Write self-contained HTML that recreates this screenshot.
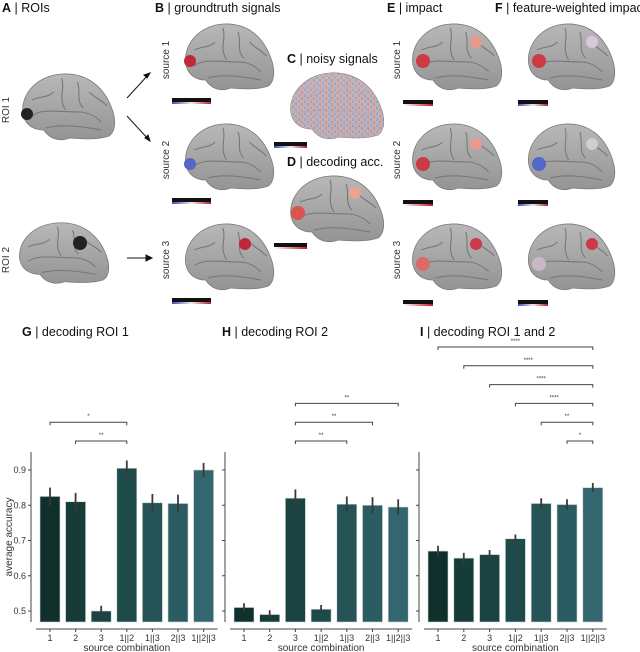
<!DOCTYPE html>
<html><head><meta charset="utf-8">
<style>
body{margin:0;background:#fff;}
svg{display:block;font-family:"Liberation Sans","DejaVu Sans",sans-serif;}
.pl{font-size:12.5px;fill:#111;}
.tk{font-size:9px;fill:#333;}
.ax{font-size:10px;fill:#333;}
</style></head>
<body>
<svg id="fig" width="640" height="652" viewBox="0 0 640 652" xmlns="http://www.w3.org/2000/svg">
<defs>
<linearGradient id="bg" x1="0" y1="0" x2="0" y2="1"><stop offset="0" stop-color="#b8b8b8"/><stop offset="1" stop-color="#949494"/></linearGradient>
<linearGradient id="cbdiv" x1="0" x2="1"><stop offset="0" stop-color="#3b4cc0"/><stop offset="0.5" stop-color="#eeeeee"/><stop offset="1" stop-color="#c0182a"/></linearGradient>
<linearGradient id="cbseq" x1="0" x2="1"><stop offset="0" stop-color="#ffffff"/><stop offset="1" stop-color="#c0182a"/></linearGradient>
<pattern id="noise" width="6" height="6" patternUnits="userSpaceOnUse"><rect width="6" height="6" fill="#c8b8b8"/><rect x="0" y="0" width="2" height="2" fill="#8fa5d8"/><rect x="3" y="2" width="2" height="2" fill="#d98a8a"/><rect x="1" y="4" width="2" height="2" fill="#9fb0e0"/><rect x="4" y="4" width="2" height="2" fill="#e0a0a0"/></pattern>
<path id="bshape" d="M5,42 C2,22 20,3 45,2 C70,1 88,15 96,40 C99,50 98,60 92,64 C80,68 65,67 52,66 C42,70 32,67 26,58 C16,58 7,53 5,42 Z"/>
<g id="brain">
<use href="#bshape" fill="url(#bg)" stroke="#7a7a7a" stroke-width="0.8"/>
<path d="M14,44 C24,36 40,40 62,40 C70,40 78,44 84,50 M44,6 C48,16 40,26 48,38 M60,10 C64,20 58,28 66,36 M28,56 C45,52 62,54 84,58 M14,28 C22,24 30,26 36,20 M72,20 C78,26 84,28 90,34" fill="none" stroke="#777" stroke-width="1.1"/>
</g>
</defs>

<text class="pl" x="2" y="12"><tspan font-weight="bold">A</tspan> | ROIs</text>
<text class="pl" x="155" y="12"><tspan font-weight="bold">B</tspan> | groundtruth signals</text>
<text class="pl" x="287" y="63"><tspan font-weight="bold">C</tspan> | noisy signals</text>
<text class="pl" x="287" y="166"><tspan font-weight="bold">D</tspan> | decoding acc.</text>
<text class="pl" x="387" y="12"><tspan font-weight="bold">E</tspan> | impact</text>
<text class="pl" x="495" y="12" font-size="12"><tspan font-weight="bold">F</tspan> | feature-weighted impact</text>

<g><use href="#brain" transform="translate(18,72) scale(0.99,1.0)"/><circle cx="27" cy="114" r="6" fill="#222"/></g>
<g><use href="#brain" transform="translate(15,221) scale(0.96,0.92)"/><circle cx="80" cy="243" r="7" fill="#222"/></g>
<text class="ax" transform="translate(9,110) rotate(-90)" text-anchor="middle">ROI 1</text>
<text class="ax" transform="translate(9,260) rotate(-90)" text-anchor="middle">ROI 2</text>
<g stroke="#111" stroke-width="1">
<line x1="127" y1="98" x2="149" y2="74"/><path d="M150,73 l-6,2 l3,3 z" fill="#111"/>
<line x1="127" y1="116" x2="149" y2="140"/><path d="M150,141 l-2,-6 l-3,3 z" fill="#111"/>
<line x1="127" y1="258" x2="148" y2="258"/><path d="M152,258 l-6,-3 v6 z" fill="#111"/>
</g>

<g id="Bpanel"></g>
<g><use href="#brain" transform="translate(286,71) scale(1.0,1.0)"/>
<use href="#bshape" transform="translate(286,71) scale(1.0,1.0)" fill="url(#noise)" opacity="0.85"/></g>
<g><rect x="274" y="142" width="33" height="5" fill="#111"/><rect x="274" y="146" width="33" height="2" fill="url(#cbdiv)"/></g>
<g><use href="#brain" transform="translate(286,174) scale(1.0,1.0)"/><circle cx="298" cy="213" r="7" fill="#d9534f"/><circle cx="355" cy="193" r="6" fill="#eea28f"/></g>
<g><rect x="274" y="243" width="33" height="5" fill="#111"/><rect x="274" y="247" width="33" height="2" fill="url(#cbseq)"/></g>

<g id="EFpanel"></g>

<text class="pl" x="22" y="336"><tspan font-weight="bold">G</tspan> | decoding ROI 1</text>
<text class="pl" x="222" y="336"><tspan font-weight="bold">H</tspan> | decoding ROI 2</text>
<text class="pl" x="420" y="336"><tspan font-weight="bold">I</tspan> | decoding ROI 1 and 2</text>
<g id="charts"></g>
</svg>
<script>
const categories = ["1","2","3","1||2","1||3","2||3","1||2||3"];
const valuesG = [0.825,0.81,0.50,0.905,0.807,0.805,0.90];
const errG    = [0.025,0.025,0.015,0.022,0.025,0.025,0.02];
const valuesH = [0.51,0.49,0.82,0.505,0.803,0.80,0.795];
const errH    = [0.012,0.012,0.025,0.012,0.022,0.023,0.022];
const valuesI = [0.67,0.65,0.66,0.705,0.805,0.802,0.85];
const errI    = [0.015,0.015,0.013,0.012,0.015,0.015,0.013];
const yTicks  = [0.5,0.6,0.7,0.8,0.9];
const yTickLabels = ["0.5","0.6","0.7","0.8","0.9"];
const sigG = [[0,3,"*"],[1,3,"**"]];
const sigH = [[2,6,"**"],[2,5,"**"],[2,4,"**"]];
const sigI = [[0,6,"****"],[1,6,"****"],[2,6,"****"],[3,6,"****"],[4,6,"**"],[5,6,"*"]];
const colors = ["#10302c","#163c38","#1a4341","#1e4a4a","#255356","#2b5c61","#34666f"];

const NS="http://www.w3.org/2000/svg";
function mk(tag,attrs,parent){const e=document.createElementNS(NS,tag);for(const k in attrs)e.setAttribute(k,attrs[k]);parent.appendChild(e);return e;}
const yScale=v=>611-(v-0.5)*352.5;
const root=document.getElementById('charts');

function chart(name,axisX,barX0,step,vals,errs,sigs,showYLabels){
  const g=mk('g',{},root);
  
  
  const ya=mk('line',{x1:axisX,y1:452,x2:axisX,y2:622,stroke:'#444','stroke-width':1},g);
  
  
  yTicks.forEach((t,i)=>{
    const y=yScale(t);
    mk('line',{x1:axisX-3,y1:y,x2:axisX,y2:y,stroke:'#444'},g);
    if(showYLabels){const tx=mk('text',{x:axisX-5,y:y+3,'text-anchor':'end',class:'tk'},g);tx.textContent=yTickLabels[i];
      
      }
  });
  const xa=mk('line',{x1:barX0-4,y1:629,x2:barX0+step*6+24,y2:629,stroke:'#444'},g);
  
  
  vals.forEach((v,i)=>{
    const x=barX0+i*step, y=yScale(v);
    const b=mk('rect',{x:x,y:y,width:20,height:622-y,fill:colors[i],stroke:'#cfd8d8','stroke-width':0.6},g);
    
    
    const e=mk('line',{x1:x+10,x2:x+10,y1:yScale(v+errs[i]),y2:yScale(v-errs[i]),stroke:'#3a3a3a','stroke-width':1.8},g);
    
    
    mk('line',{x1:x+10,x2:x+10,y1:629,y2:632,stroke:'#444'},g);
    const t=mk('text',{x:x+10,y:641,'text-anchor':'middle',class:'tk'},g);t.textContent=categories[i];
    
    
  });
  const tt=mk('text',{x:barX0+step*3+10,y:651,'text-anchor':'middle',class:'ax'},g);tt.textContent='source combination';
  
  
  const n=sigs.length;
  sigs.forEach((s,k)=>{
    const y=441-(n-1-k)*18.8;
    const x1=barX0+s[0]*step+10,x2=barX0+s[1]*step+10;
    const p=mk('path',{d:`M${x1},${y+3}V${y}H${x2}V${y+3}`,fill:'none',stroke:'#444','stroke-width':1},g);
    
    
    const t=mk('text',{x:(x1+x2)/2,y:y-4,'text-anchor':'middle','font-size':6,fill:'#333'},g);t.textContent=s[2];
    
    
  });
}
chart('g',31,40,25.6,valuesG,errG,sigG,true);
chart('h',225,234,25.7,valuesH,errH,sigH,false);
chart('i',419,428,25.8,valuesI,errI,sigI,false);
const yl=mk('text',{transform:'translate(12,537) rotate(-90)','text-anchor':'middle',class:'ax'},root);
yl.textContent='average accuracy';



function brain(parent,x,y,sx,sy,dots,name){
  const g=mk('g',{},parent);
  
  
  mk('use',{href:'#brain',transform:`translate(${x},${y}) scale(${sx},${sy})`},g);
  dots.forEach(d=>mk('circle',{cx:d[0],cy:d[1],r:d[2],fill:d[3]},g));
}
function cbar(parent,x,y,w,grad,name){
  const g=mk('g',{},parent);
  
  
  mk('rect',{x:x,y:y,width:w,height:5,fill:'#111'},g);
  mk('rect',{x:x,y:y+4,width:w,height:2,fill:grad},g);
}
function srcLabel(parent,x,y,txt){
  const t=mk('text',{transform:`translate(${x},${y}) rotate(-90)`,'text-anchor':'middle',class:'ax'},parent);
  t.textContent=txt;
  
  
}
const B=document.getElementById('Bpanel');
const rowY=[22,122,222];
const bDots=[[[190,61,6,'#c0283a']],[[190,164,6,'#5468c8']],[[245,244,6,'#c0283a']]];
rowY.forEach((y,i)=>{
  brain(B,181,y,0.95,1.0,bDots[i],'groundtruth-brain-source-'+(i+1));
  cbar(B,172,y+76,39,'url(#cbdiv)','groundtruth-colorbar');
  srcLabel(B,169,y+38,'source '+(i+1));
});
const EF=document.getElementById('EFpanel');
const eDots=[[[423,61,7,'#cc3a44'],[476,42,6,'#e99a8a']],[[423,164,7,'#cc3a44'],[476,144,6,'#e99a8a']],[[423,264,7,'#dd6a66'],[476,244,6,'#cc3a44']]];
const fDots=[[[539,61,7,'#cc3a44'],[592,42,6,'#d8c8d8']],[[539,164,7,'#5468c8'],[592,144,6,'#d8c8d8']],[[539,264,7,'#c8b8c8'],[592,244,6,'#cc3a44']]];
rowY.forEach((y,i)=>{
  brain(EF,408,y,0.96,1.0,eDots[i],'impact-brain-source-'+(i+1));
  brain(EF,524,y,0.93,1.0,fDots[i],'feature-weighted-brain-source-'+(i+1));
  cbar(EF,403,y+78,30,'url(#cbseq)','impact-colorbar');
  cbar(EF,518,y+78,30,'url(#cbdiv)','feature-weighted-colorbar');
  srcLabel(EF,400,y+38,'source '+(i+1));
});
</script>
</body></html>
